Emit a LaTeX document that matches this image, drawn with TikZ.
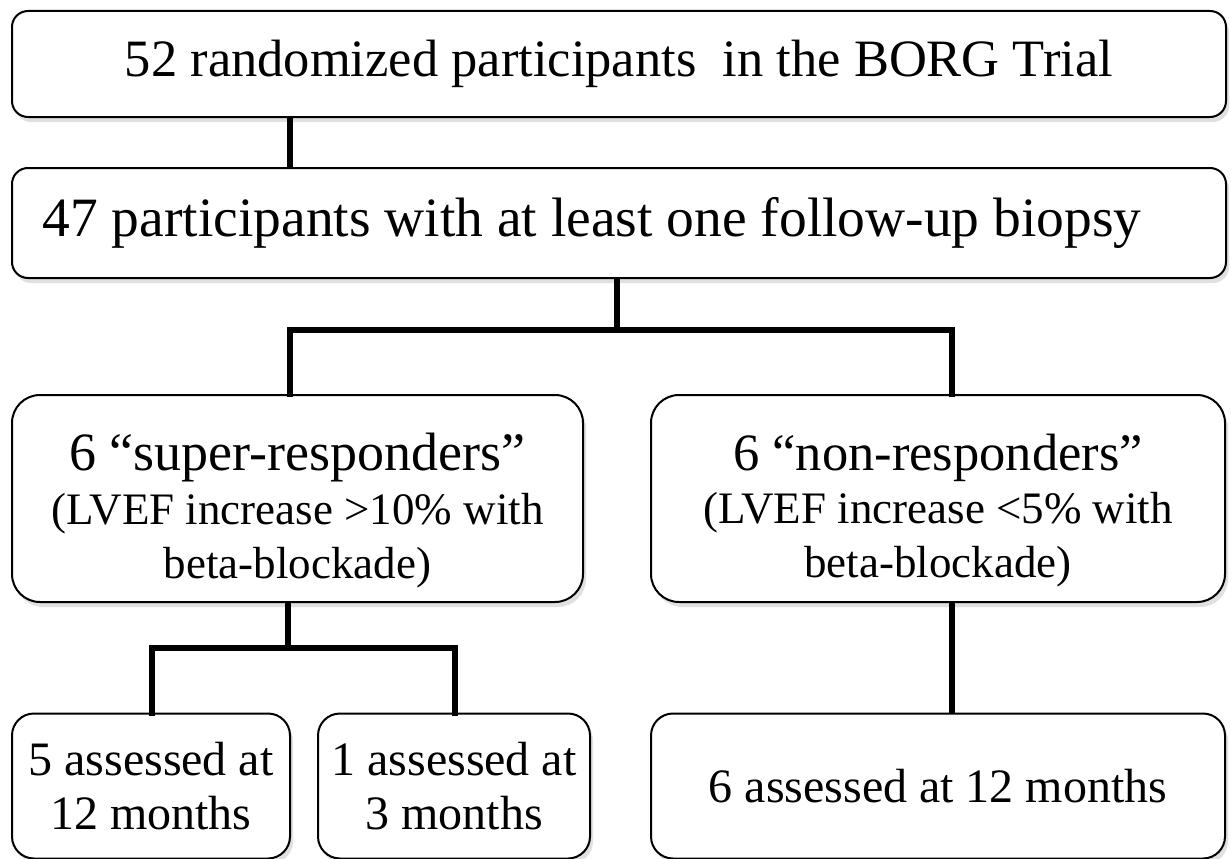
\documentclass[tikz,border=0pt]{standalone}
\usepackage{fontspec}
\setmainfont{Liberation Serif}
\usetikzlibrary{shadows}
\tikzset{
  box/.style={draw=black, line width=2pt, fill=white, align=center, inner sep=0pt,
    drop shadow={shadow xshift=3pt, shadow yshift=-5pt, opacity=0.12, fill=black}},
  wide/.style={box, rounded corners=16pt},
  mid/.style={box, rounded corners=28pt},
  small/.style={box, rounded corners=22pt},
  inside/.style={align=center, inner sep=0pt, yshift=-12pt},
  link/.style={line width=6pt, draw=black}
}
\newcommand{\fs}[2]{\fontsize{#1}{#2}\selectfont}
\begin{document}
\begin{tikzpicture}[x=1pt, y=-1pt]
  \useasboundingbox (0,0) rectangle (1231,859);

  % top two full-width boxes
  \node[wide, minimum width=1214pt, minimum height=106pt] (b1) at (619,64)
    {\fs{52.5}{60}52 randomized participants~ in the BORG Trial};
  \node[wide, minimum width=1214pt, minimum height=110pt] (b2) at (619,223)
    {\fs{55.5}{64}47 participants with at least one follow-up biopsy\hspace*{54pt}};

  % responder groups: the three text lines sit a little below the box centre
  \node[mid, minimum width=571pt, minimum height=207pt,
    label={[inside, name=t3]center:{\fs{54}{50}6 “super-responders”\\[10pt]
     \fs{45}{50}(LVEF increase >10\% with\\[12pt]
     \fs{45}{50}beta-blockade)}}] (b3) at (297.5,498.5) {};
  \node[mid, minimum width=574pt, minimum height=207pt,
    label={[inside, name=t4]center:{\fs{52.5}{50}6 “non-responders”\\[10pt]
     \fs{45}{50}(LVEF increase <5\% with\\[12pt]
     \fs{45}{50}beta-blockade)}}] (b4) at (938,498.5) {};

  % assessment boxes
  \node[small, minimum width=278pt, minimum height=145pt] (b5) at (151,786)
    {\fs{48}{53}5 assessed at\\[19pt] \fs{48}{53}12 months};
  \node[small, minimum width=272pt, minimum height=145pt] (b6) at (454,786)
    {\fs{48}{53}1 assessed at\\[19pt] \fs{48}{53}3 months};
  \node[small, minimum width=574pt, minimum height=145pt] (b7) at (938,786)
    {\fs{48}{53}6 assessed at 12 months};

  % junction points of the tree
  \coordinate (c1) at (290,0);
  \coordinate (c2) at (617,330);
  \coordinate (c3) at (290,330);
  \coordinate (c4) at (952,330);
  \coordinate (c5) at (288,648);
  \coordinate (c6) at (152,648);
  \coordinate (c7) at (455,648);
  \coordinate (c8) at (952,0);

  % connectors
  \draw[link] (b1.south -| c1) -- (b2.north -| c1);
  \draw[link] (b2.south -| c2) -- (c2);
  \draw[link, line cap=rect] (b3.north -| c3) -- (c3) -- (c4) -- (b4.north -| c4);
  \draw[link] (b3.south -| c5) -- (c5);
  \draw[link, line cap=rect] (b5.north -| c6) -- (c6) -- (c7) -- (b6.north -| c7);
  \draw[link] (b4.south -| c8) -- (b7.north -| c8);
\end{tikzpicture}
\end{document}
